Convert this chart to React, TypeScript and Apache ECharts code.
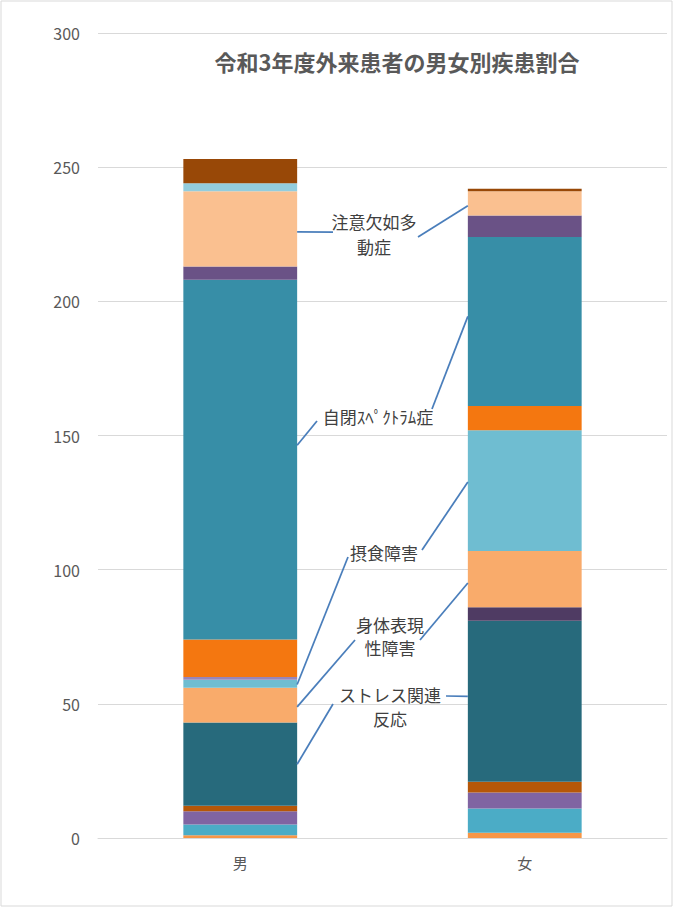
import React, { useEffect, useRef } from "react";
import * as echarts from "echarts";

// ---- data ----
const categories = ["男", "女"];
const seriesNames = [
  "系列1", "系列2", "系列3", "系列4", "ストレス関連反応",
  "系列6", "身体表現性障害", "摂食障害", "系列9", "系列10",
  "自閉ｽﾍﾟｸﾄﾗﾑ症", "系列12", "注意欠如多動症", "系列14", "系列15",
];
const maleValues = [1, 4, 5, 2, 31, 0, 13, 3, 1, 14, 134, 5, 28, 3, 9];
const femaleValues = [2, 9, 6, 4, 60, 5, 21, 45, 0, 9, 63, 8, 9, 0, 1];
const seriesColors = [
  "#F79646", "#4BACC6", "#8064A2", "#B65708", "#276A7C",
  "#4F3B63", "#F9AB6B", "#6FBDD1", "#9985B8", "#F47710",
  "#378EA7", "#6A5286", "#FAC090", "#93CDDD", "#984807",
];
const yMin = 0;
const yMax = 300;
const yInterval = 50;
const chartTitle = "令和3年度外来患者の男女別疾患割合";

// annotation texts and the series they point to
const annotationTexts = [
  "注意欠如多\n動症",
  "自閉ｽﾍﾟｸﾄﾗﾑ症",
  "摂食障害",
  "身体表現\n性障害",
  "ストレス関連\n反応",
];
const annotationSeries = [12, 10, 7, 6, 4];

// layout of annotation labels (pixels): text centre, left/right leader-line ends,
// and where along each segment (fraction of its height) the leader touches the bar
const annotationLayout = [
  { cx: 374, cy: 234, lh: 25, left: [333, 232], right: [418, 237], fm: 0.46, ff: 0.4 },
  { cx: 378, cy: 416, lh: 25, left: [317, 421], right: [432, 409], fm: 0.54, ff: 0.53 },
  { cx: 384, cy: 552, lh: 25, left: [348, 557], right: [422, 550], fm: 0.4, ff: 0.57 },
  { cx: 390, cy: 636, lh: 23, left: [355, 640], right: [420, 640], fm: 0.45, ff: 0.43 },
  { cx: 390, cy: 706, lh: 24, left: [333, 704], right: [446, 696], fm: 0.5, ff: 0.53 },
];

const FONT = "'Noto Sans CJK JP', 'Noto Sans', sans-serif";

export default function App() {
  const ref = useRef<HTMLDivElement>(null);

  useEffect(() => {
    if (!ref.current) return;
    const chart = echarts.init(ref.current, null, { renderer: "svg" });

    const series = seriesNames.map((name, i) => ({
      name,
      type: "bar",
      stack: "total",
      barWidth: "40%",
      itemStyle: { color: seriesColors[i] },
      data: [maleValues[i], femaleValues[i]],
    }));

    chart.setOption({
      animation: false,
      textStyle: { fontFamily: FONT },
      grid: { left: 98, right: 7, top: 33, bottom: 70 },
      xAxis: {
        type: "category",
        data: categories,
        axisTick: { show: false },
        axisLine: { lineStyle: { color: "#d9d9d9", width: 1 } },
        axisLabel: { color: "#595959", fontSize: 15, margin: 17, fontFamily: FONT },
      },
      yAxis: {
        type: "value",
        min: yMin,
        max: yMax,
        interval: yInterval,
        axisLine: { show: false },
        axisTick: { show: false },
        splitLine: { lineStyle: { color: "#d9d9d9", width: 1 } },
        axisLabel: { color: "#595959", fontSize: 16, margin: 18, fontFamily: FONT },
      },
      series,
    });

    const p0 = chart.convertToPixel({ xAxisIndex: 0, yAxisIndex: 0 }, [0, 0]) as number[];
    const p1 = chart.convertToPixel({ xAxisIndex: 0, yAxisIndex: 0 }, [1, 0]) as number[];
    const band = p1[0] - p0[0];
    const half = band * 0.2;

    const at = (vals: number[], idx: number, frac: number) => {
      let s = 0;
      for (let k = 0; k < idx; k++) s += vals[k];
      return s + vals[idx] * frac;
    };

    const graphics: any[] = [
      {
        type: "rect",
        shape: { x: 1, y: 1, width: 671, height: 905 },
        style: { fill: "none", stroke: "#d9d9d9", lineWidth: 1 },
        silent: true,
      },
      {
        type: "text",
        x: 397,
        y: 61,
        style: {
          text: chartTitle,
          fill: "#595959",
          font: `bold 22px ${FONT}`,
          align: "center",
          verticalAlign: "middle",
        },
      },
    ];

    annotationTexts.forEach((txt, a) => {
      const si = annotationSeries[a];
      const lay = annotationLayout[a];
      const mPt = chart.convertToPixel({ xAxisIndex: 0, yAxisIndex: 0 }, [0, at(maleValues, si, lay.fm)]) as number[];
      const fPt = chart.convertToPixel({ xAxisIndex: 0, yAxisIndex: 0 }, [1, at(femaleValues, si, lay.ff)]) as number[];
      graphics.push({
        type: "line",
        shape: { x1: mPt[0] + half, y1: mPt[1], x2: lay.left[0], y2: lay.left[1] },
        style: { stroke: "#4A7EBB", lineWidth: 1.75 },
        z: 10,
      });
      graphics.push({
        type: "line",
        shape: { x1: lay.right[0], y1: lay.right[1], x2: fPt[0] - half, y2: fPt[1] },
        style: { stroke: "#4A7EBB", lineWidth: 1.75 },
        z: 10,
      });
      graphics.push({
        type: "text",
        x: lay.cx,
        y: lay.cy,
        z: 11,
        style: {
          text: txt,
          fill: "#404040",
          font: `17px ${FONT}`,
          lineHeight: lay.lh,
          align: "center",
          verticalAlign: "middle",
        },
      });
    });

    chart.setOption({ graphic: graphics });

    return () => chart.dispose();
  }, []);

  return (
    <div
      ref={ref}
      style={{ position: "fixed", left: 0, top: 0, width: 674, height: 908, background: "#ffffff" }}
    />
  );
}
